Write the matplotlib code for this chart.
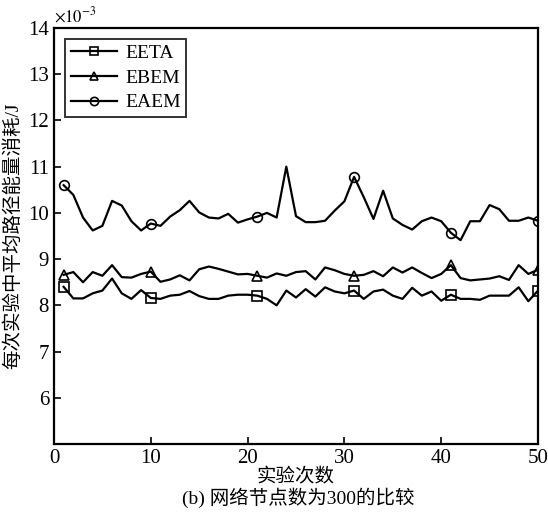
import matplotlib
matplotlib.use("Agg")
import matplotlib.pyplot as plt
import numpy as np

plt.rcParams['font.family'] = ['Liberation Serif', 'Noto Sans CJK SC']
plt.rcParams['mathtext.fontset'] = 'stix'

runs = list(range(1, 51))
eeta = [8.40, 8.15, 8.15, 8.26, 8.32, 8.58, 8.26, 8.14, 8.33, 8.16,
        8.14, 8.21, 8.23, 8.31, 8.20, 8.14, 8.14, 8.21, 8.23, 8.23,
        8.21, 8.14, 8.00, 8.32, 8.17, 8.35, 8.19, 8.39, 8.30, 8.26,
        8.32, 8.14, 8.30, 8.34, 8.21, 8.14, 8.38, 8.21, 8.30, 8.10,
        8.23, 8.14, 8.14, 8.12, 8.21, 8.21, 8.21, 8.39, 8.09, 8.32]
ebem = [8.66, 8.72, 8.50, 8.72, 8.64, 8.87, 8.61, 8.60, 8.68, 8.73,
        8.51, 8.56, 8.65, 8.54, 8.78, 8.84, 8.79, 8.73, 8.67, 8.68,
        8.64, 8.60, 8.69, 8.64, 8.72, 8.74, 8.56, 8.82, 8.76, 8.68,
        8.64, 8.66, 8.74, 8.63, 8.82, 8.71, 8.82, 8.70, 8.59, 8.68,
        8.87, 8.59, 8.54, 8.56, 8.58, 8.63, 8.55, 8.87, 8.68, 8.77]
eaem = [10.60, 10.39, 9.90, 9.62, 9.72, 10.26, 10.16, 9.82, 9.62, 9.77,
        9.72, 9.92, 10.06, 10.26, 10.01, 9.90, 9.88, 9.98, 9.79, 9.86,
        9.92, 10.00, 9.90, 11.00, 9.93, 9.80, 9.80, 9.83, 10.05, 10.25,
        10.78, 10.34, 9.87, 10.48, 9.88, 9.74, 9.64, 9.82, 9.90, 9.82,
        9.57, 9.41, 9.82, 9.82, 10.17, 10.08, 9.83, 9.83, 9.90, 9.83]
labels = ['EETA', 'EBEM', 'EAEM']
markers = ['s', '^', 'o']
mark_idx = [0, 9, 20, 30, 40, 49]

fig = plt.figure(figsize=(5.48, 5.16), dpi=100)
ax = fig.add_axes([0.0985, 0.1395, 0.8833, 0.8062])

for ys, lab, mk in zip([eeta, ebem, eaem], labels, markers):
    ax.plot(runs, ys, color='black', linewidth=1.6, marker=mk, markersize=7,
            markerfacecolor='none', markeredgecolor='black', markeredgewidth=1.2,
            markevery=mark_idx, label=lab)

ax.set_xlim(0, 50)
ax.set_ylim(5, 14)
ax.set_xticks([0, 10, 20, 30, 40, 50])
ax.set_yticks([6, 7, 8, 9, 10, 11, 12, 13, 14])
ax.tick_params(direction='in', length=5, width=1.2, labelsize=15, top=False, right=False)
for s in ax.spines.values():
    s.set_linewidth(1.6)

ax.text(0.0, 1.005, r'$\times 10^{-3}$', transform=ax.transAxes, fontsize=12,
        ha='left', va='bottom')

ax.set_xlabel('实验次数', fontsize=14, labelpad=0)
ax.set_ylabel('每次实验中平均路径能量消耗/J', fontsize=14, labelpad=4)
fig.text(0.545, 0.035, '(b) 网络节点数为300的比较', fontsize=14, ha='center', va='center')

leg = ax.legend(loc='upper left', fontsize=14, frameon=True, fancybox=False,
                edgecolor='black', handlelength=2.4, borderpad=0.3,
                labelspacing=0.36, handletextpad=0.4, borderaxespad=0.55,
                markerscale=0.85)
leg.get_frame().set_linewidth(1.4)

fig.savefig('out.png', dpi=100)
